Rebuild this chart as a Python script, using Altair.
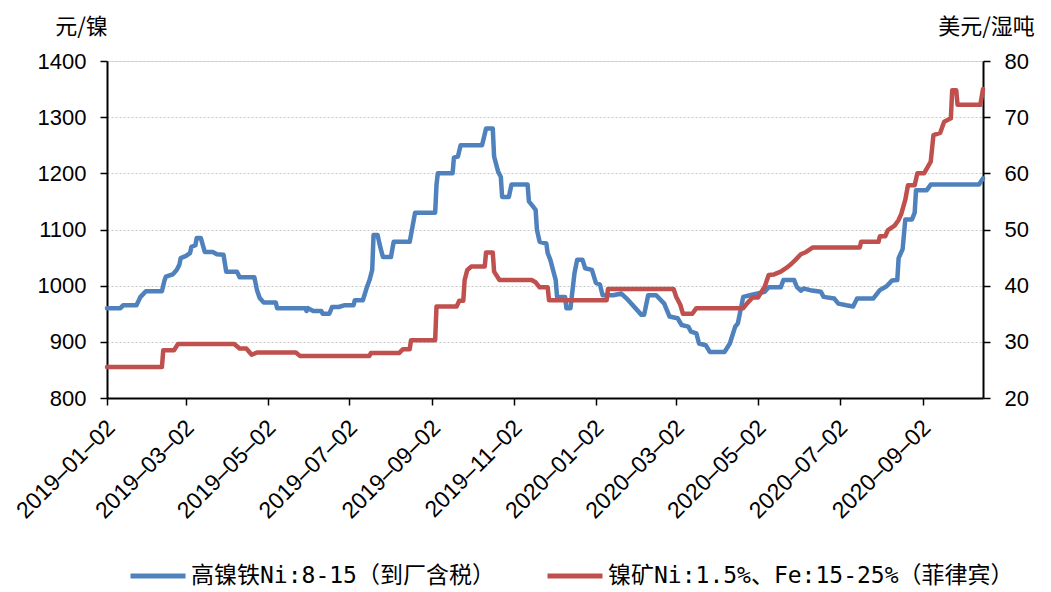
import altair as alt
import pandas as pd

BLUE_NAME = "高镍铁Ni:8-15（到厂含税）"
RED_NAME = "镍矿Ni:1.5%、Fe:15-25%（菲律宾）"

blue_dates = [
    "2019-01-02", "2019-01-12", "2019-01-14", "2019-01-24", "2019-01-27", "2019-01-29", "2019-01-31", "2019-02-12", "2019-02-14", "2019-02-15",
    "2019-02-20", "2019-02-23", "2019-02-25", "2019-02-26", "2019-03-02", "2019-03-05", "2019-03-06", "2019-03-09", "2019-03-10", "2019-03-13",
    "2019-03-16", "2019-03-22", "2019-03-25", "2019-03-30", "2019-04-01", "2019-04-09", "2019-04-11", "2019-04-22", "2019-04-24", "2019-04-26",
    "2019-04-29", "2019-05-08", "2019-05-09", "2019-05-30", "2019-05-31", "2019-06-01", "2019-06-05", "2019-06-11", "2019-06-12", "2019-06-17",
    "2019-06-19", "2019-06-24", "2019-06-28", "2019-07-05", "2019-07-06", "2019-07-12", "2019-07-15", "2019-07-17", "2019-07-19", "2019-07-20",
    "2019-07-23", "2019-07-25", "2019-07-27", "2019-08-02", "2019-08-04", "2019-08-16", "2019-08-20", "2019-09-04", "2019-09-05", "2019-09-06",
    "2019-09-17", "2019-09-18", "2019-09-21", "2019-09-23", "2019-10-09", "2019-10-12", "2019-10-17", "2019-10-18", "2019-10-21", "2019-10-23",
    "2019-10-24", "2019-10-29", "2019-10-31", "2019-11-12", "2019-11-13", "2019-11-16", "2019-11-18", "2019-11-19", "2019-11-21", "2019-11-26",
    "2019-11-27", "2019-11-29", "2019-12-03", "2019-12-04", "2019-12-10", "2019-12-11", "2019-12-14", "2019-12-17", "2019-12-19", "2019-12-23",
    "2019-12-25", "2019-12-30", "2020-01-02", "2020-01-05", "2020-01-07", "2020-01-15", "2020-01-21", "2020-01-25", "2020-02-05", "2020-02-07",
    "2020-02-10", "2020-02-16", "2020-02-22", "2020-02-26", "2020-03-03", "2020-03-06", "2020-03-11", "2020-03-13", "2020-03-17", "2020-03-19",
    "2020-03-24", "2020-03-27", "2020-04-07", "2020-04-11", "2020-04-15", "2020-04-17", "2020-04-21", "2020-04-26", "2020-05-07", "2020-05-10",
    "2020-05-19", "2020-05-21", "2020-05-29", "2020-05-31", "2020-06-03", "2020-06-05", "2020-06-10", "2020-06-18", "2020-06-20", "2020-06-28",
    "2020-07-01", "2020-07-07", "2020-07-12", "2020-07-15", "2020-07-27", "2020-08-01", "2020-08-06", "2020-08-10", "2020-08-14", "2020-08-15",
    "2020-08-18", "2020-08-20", "2020-08-25", "2020-08-27", "2020-08-28", "2020-09-05", "2020-09-08", "2020-10-14", "2020-10-17",
]
blue_values = [
    960, 960, 965, 965, 980, 985, 990, 990, 1010, 1016,
    1020, 1028, 1037, 1049, 1053, 1058, 1069, 1072, 1085, 1085,
    1060, 1060, 1056, 1055, 1025, 1025, 1015, 1015, 992, 978,
    970, 970, 960, 960, 955, 960, 955, 955, 950, 950,
    962, 962, 965, 965, 974, 974, 997, 1010, 1028, 1090,
    1090, 1069, 1051, 1051, 1078, 1078, 1130, 1130, 1180, 1200,
    1200, 1228, 1230, 1250, 1250, 1280, 1280, 1230, 1203, 1194,
    1158, 1158, 1180, 1180, 1150, 1141, 1135, 1099, 1078, 1075,
    1058, 1046, 1010, 980, 980, 960, 960, 1022, 1046, 1046,
    1031, 1028, 1005, 1002, 983, 983, 986, 977, 948, 948,
    983, 983, 968, 945, 942, 930, 927, 918, 915, 897,
    894, 882, 882, 897, 927, 933, 980, 983, 989, 997,
    997, 1010, 1010, 998, 991, 995, 992, 989, 980, 977,
    968, 965, 963, 977, 977, 992, 999, 1009, 1010, 1049,
    1065, 1118, 1118, 1130, 1170, 1170, 1180, 1180, 1191,
]

red_dates = [
    "2019-01-02", "2019-02-12", "2019-02-13", "2019-02-21", "2019-02-24", "2019-04-07", "2019-04-11", "2019-04-16", "2019-04-20", "2019-04-24",
    "2019-05-23", "2019-05-26", "2019-07-17", "2019-07-18", "2019-08-08", "2019-08-11", "2019-08-16", "2019-08-17", "2019-09-04", "2019-09-05",
    "2019-09-20", "2019-09-22", "2019-09-25", "2019-09-26", "2019-09-28", "2019-10-01", "2019-10-11", "2019-10-12", "2019-10-17", "2019-10-18",
    "2019-10-22", "2019-11-15", "2019-11-18", "2019-11-21", "2019-11-27", "2019-11-28", "2020-01-10", "2020-01-11", "2020-02-29", "2020-03-02",
    "2020-03-05", "2020-03-07", "2020-03-14", "2020-03-17", "2020-04-21", "2020-04-24", "2020-04-28", "2020-05-02", "2020-05-07", "2020-05-10",
    "2020-05-14", "2020-05-19", "2020-05-24", "2020-05-27", "2020-05-30", "2020-06-03", "2020-06-07", "2020-06-12", "2020-07-17", "2020-07-18",
    "2020-07-31", "2020-08-01", "2020-08-05", "2020-08-07", "2020-08-12", "2020-08-15", "2020-08-17", "2020-08-20", "2020-08-22", "2020-08-27",
    "2020-08-29", "2020-09-03", "2020-09-08", "2020-09-10", "2020-09-15", "2020-09-18", "2020-09-23", "2020-09-24", "2020-09-27", "2020-09-28",
    "2020-10-15", "2020-10-17",
]
red_values = [
    25.5, 25.5, 28.5, 28.5, 29.6, 29.6, 28.8, 28.8, 27.7, 28.1,
    28.1, 27.5, 27.5, 28.0, 28.0, 28.7, 28.7, 30.3, 30.3, 36.3,
    36.3, 37.3, 37.3, 41.0, 42.8, 43.4, 43.4, 45.9, 45.9, 42.5,
    41.0, 41.0, 40.6, 39.7, 39.7, 37.4, 37.4, 39.4, 39.4, 38.0,
    36.6, 35.0, 35.0, 36.0, 36.0, 36.9, 37.9, 37.9, 39.8, 41.9,
    42.0, 42.5, 43.3, 43.9, 44.6, 45.6, 46.0, 46.8, 46.8, 47.8,
    47.8, 48.8, 48.8, 49.9, 50.7, 51.7, 52.8, 55.3, 57.9, 57.9,
    60.0, 60.0, 62.1, 66.8, 67.2, 69.2, 69.8, 74.8, 74.8, 72.2,
    72.2, 75.0,
]

left_ticks = [800, 900, 1000, 1100, 1200, 1300, 1400]
right_ticks = [20, 30, 40, 50, 60, 70, 80]
x_tick_dates = [(2019, 1), (2019, 3), (2019, 5), (2019, 7), (2019, 9), (2019, 11),
                (2020, 1), (2020, 3), (2020, 5), (2020, 7), (2020, 9)]

df_blue = pd.DataFrame({"date": [d.replace("-", "/") for d in blue_dates],
                        "value": blue_values, "series": BLUE_NAME})
df_red = pd.DataFrame({"date": [d.replace("-", "/") for d in red_dates],
                       "value": red_values, "series": RED_NAME})

TICK_FONT = "Liberation Sans"
CJK_FONT = "Noto Sans CJK SC"
LEGEND_FONT = "DejaVu Sans Mono, Noto Sans CJK SC"

x_enc = alt.X(
    "date:T",
    scale=alt.Scale(domain=[alt.DateTime(year=2019, month=1, date=2),
                            alt.DateTime(year=2020, month=10, date=17)]),
    axis=alt.Axis(
        values=[alt.DateTime(year=y, month=m, date=2) for y, m in x_tick_dates],
        format="%Y\u2013%m\u2013%d", labelAngle=-45, labelFont=TICK_FONT, labelFontSize=23,
        labelColor="black", labelPadding=11, labelOffset=-4, tickSize=7, tickColor="black",
        tickWidth=1.5, domainColor="black", domainWidth=2, grid=False, title=None,
        labelOverlap=False, labelBound=False, labelFlush=False,
    ),
)

color_enc = alt.Color(
    "series:N",
    scale=alt.Scale(domain=[BLUE_NAME, RED_NAME], range=["#4F81BD", "#C0504D"]),
    legend=alt.Legend(
        title=None, orient="none", legendX=21, legendY=485, direction="horizontal",
        symbolType="stroke", symbolSize=3025, symbolStrokeWidth=5,
        labelFont=LEGEND_FONT, labelFontSize=23, labelColor="black", labelLimit=700,
        columnPadding=42, labelOffset=3,
    ),
)

blue = alt.Chart(df_blue).mark_line(strokeWidth=4.5, strokeJoin="round", strokeCap="round").encode(
    x=x_enc,
    y=alt.Y(
        "value:Q",
        scale=alt.Scale(domain=[800, 1400], nice=False, zero=False),
        axis=alt.Axis(
            orient="left", values=left_ticks, format="d", labelFont=TICK_FONT, labelFontSize=22,
            labelColor="black", labelPadding=14, tickSize=7, tickColor="black", tickWidth=1.5,
            domainColor="black", domainWidth=2,
            grid=True, gridColor="#c8c8c8", gridDash=[2, 2], gridWidth=1.2,
            title="元/镍", titleAngle=0, titleX=-26, titleY=-35, titleAlign="center",
            titleBaseline="middle", titleFont=CJK_FONT, titleFontSize=22,
            titleFontWeight="normal", titleColor="black",
        ),
    ),
    color=color_enc,
)

red = alt.Chart(df_red).mark_line(strokeWidth=4.5, strokeJoin="round", strokeCap="round").encode(
    x=x_enc,
    y=alt.Y(
        "value:Q",
        scale=alt.Scale(domain=[20, 80], nice=False, zero=False),
        axis=alt.Axis(
            orient="right", values=right_ticks, format="d", labelFont=TICK_FONT, labelFontSize=22,
            labelColor="black", labelPadding=14, tickSize=7, tickColor="black", tickWidth=1.5,
            domainColor="black", domainWidth=2, grid=False,
            title="美元/湿吨", titleAngle=0, titleX=3, titleY=-35, titleAlign="center",
            titleBaseline="middle", titleFont=CJK_FONT, titleFontSize=22,
            titleFontWeight="normal", titleColor="black",
        ),
    ),
    color=color_enc,
)

chart = alt.layer(blue, red).resolve_scale(y="independent").properties(
    width=876, height=337,
    padding={"left": 99, "top": 53, "right": 58, "bottom": 194},
    autosize=alt.AutoSizeParams(type="none"),
).configure_view(stroke=None).configure(background="white")

chart.save("out.html", embed_options={"renderer": "svg", "actions": False})
